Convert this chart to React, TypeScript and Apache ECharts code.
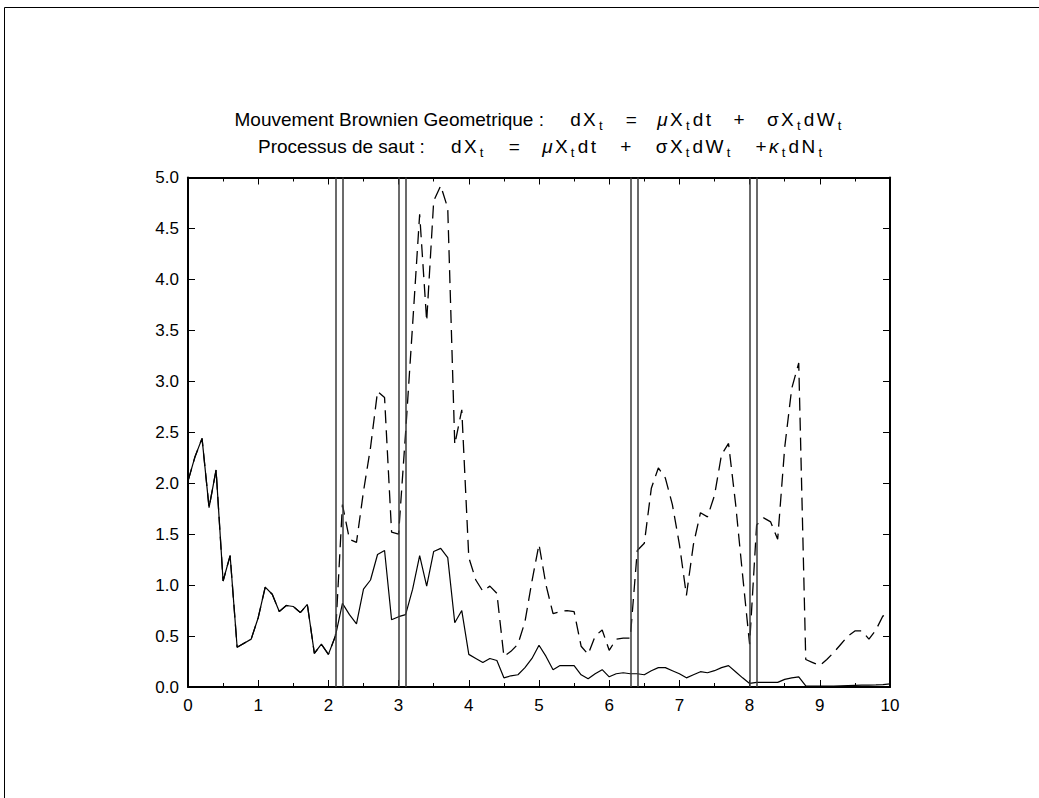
import React, { useEffect, useRef } from "react";
import * as echarts from "echarts";

const times = [
  0.0, 0.1, 0.2, 0.3, 0.4, 0.5, 0.6, 0.7, 0.8, 0.9,
  1.0, 1.1, 1.2, 1.3, 1.4, 1.5, 1.6, 1.7, 1.8, 1.9,
  2.0, 2.1, 2.2, 2.3, 2.4, 2.5, 2.6, 2.7, 2.8, 2.9,
  3.0, 3.1, 3.2, 3.3, 3.4, 3.5, 3.6, 3.7, 3.8, 3.9,
  4.0, 4.1, 4.2, 4.3, 4.4, 4.5, 4.6, 4.7, 4.8, 4.9,
  5.0, 5.1, 5.2, 5.3, 5.4, 5.5, 5.6, 5.7, 5.8, 5.9,
  6.0, 6.1, 6.2, 6.3, 6.4, 6.5, 6.6, 6.7, 6.8, 6.9,
  7.0, 7.1, 7.2, 7.3, 7.4, 7.5, 7.6, 7.7, 7.8, 7.9,
  8.0, 8.1, 8.2, 8.3, 8.4, 8.5, 8.6, 8.7, 8.8, 8.9,
  9.0, 9.1, 9.2, 9.3, 9.4, 9.5, 9.6, 9.7, 9.8, 9.9,
  10.0,
];

// Mouvement Brownien Geometrique (solid)
const gbm = [
  2.02, 2.26, 2.44, 1.76, 2.13, 1.04, 1.29, 0.39, 0.43, 0.47,
  0.68, 0.98, 0.91, 0.74, 0.8, 0.79, 0.73, 0.81, 0.33, 0.42,
  0.32, 0.5, 0.82, 0.71, 0.62, 0.96, 1.05, 1.3, 1.34, 0.66,
  0.69, 0.71, 0.96, 1.29, 0.99, 1.33, 1.36, 1.27, 0.63, 0.75,
  0.32, 0.28, 0.24, 0.28, 0.26, 0.09, 0.11, 0.12, 0.19, 0.28,
  0.41, 0.3, 0.17, 0.21, 0.21, 0.21, 0.12, 0.08, 0.13, 0.17,
  0.1, 0.13, 0.14, 0.13, 0.13, 0.12, 0.16, 0.19, 0.19, 0.16,
  0.13, 0.09, 0.12, 0.15, 0.14, 0.16, 0.19, 0.21, 0.15, 0.09,
  0.035, 0.045, 0.045, 0.045, 0.045, 0.075, 0.09, 0.1, 0.01, 0.008,
  0.008, 0.008, 0.01, 0.012, 0.014, 0.016, 0.018, 0.018, 0.02, 0.024,
  0.03,
];

// Processus de saut (dashed)
const jump = [
  2.02, 2.26, 2.44, 1.76, 2.13, 1.04, 1.29, 0.39, 0.43, 0.47,
  0.68, 0.98, 0.91, 0.74, 0.8, 0.79, 0.73, 0.81, 0.33, 0.42,
  0.32, 0.5, 1.79, 1.45, 1.42, 1.92, 2.35, 2.9, 2.84, 1.52,
  1.5, 2.5, 3.56, 4.64, 3.59, 4.77, 4.92, 4.7, 2.38, 2.72,
  1.27, 1.05, 0.94, 0.99, 0.92, 0.3, 0.35, 0.42, 0.64, 1.04,
  1.4, 1.0, 0.72, 0.74, 0.75, 0.74, 0.4, 0.32, 0.5, 0.56,
  0.36, 0.47, 0.48, 0.48, 1.34, 1.41, 1.95, 2.15, 2.05, 1.79,
  1.4, 0.9, 1.4, 1.71, 1.67, 1.88, 2.28, 2.39, 1.8, 1.1,
  0.42, 1.59, 1.66, 1.62, 1.45, 2.35, 2.93, 3.18, 0.27, 0.24,
  0.21, 0.27, 0.34, 0.42, 0.5, 0.55, 0.55, 0.47, 0.56, 0.7,
  0.66,
];

// jump instants (double vertical lines)
const jumpLines = [2.1, 2.2, 3.0, 3.1, 6.3, 6.4, 8.0, 8.1];

const yTicks = ["0.0", "0.5", "1.0", "1.5", "2.0", "2.5", "3.0", "3.5", "4.0", "4.5", "5.0"];
const xTicks = ["0", "1", "2", "3", "4", "5", "6", "7", "8", "9", "10"];

const FONT = "'Liberation Sans', Arial, sans-serif";

const T = (style: string, text: string) => `{${style}|${text}}`;
const F = (text: string) => Array.from(text).map((c) => T("f", c)).join("");

const titleLine1 =
  T("n", "Mouvement Brownien Geometrique :") + T("sp25", " ") +
  F("dX") + T("s", "t") + T("sp20", " ") + F("=") + T("sp18", " ") +
  T("g", "μ") + F("X") + T("s", "t") + F("dt") + T("sp20", " ") + F("+") + T("sp20", " ") +
  F("σX") + T("s", "t") + F("dW") + T("s", "t");

const titleLine2 =
  T("n", "Processus de saut :") + T("sp25", " ") +
  F("dX") + T("s", "t") + T("sp22", " ") + F("=") + T("sp20", " ") +
  T("g", "μ") + F("X") + T("s", "t") + F("dt") + T("sp22", " ") + F("+") + T("sp22", " ") +
  F("σX") + T("s", "t") + F("dW") + T("s", "t") + T("sp22", " ") + F("+") +
  T("g", "κ") + T("s", "t") + F("dN") + T("s", "t");

export default function App() {
  const ref = useRef<HTMLDivElement>(null);

  useEffect(() => {
    if (!ref.current) return;
    const chart = echarts.init(ref.current, undefined, { renderer: "svg" });

    const base = { fontFamily: FONT, fill: "#000", lineHeight: 24 };
    const rich = {
      n: { ...base, fontSize: 19 },
      f: { ...base, fontSize: 19, padding: [0, 1.2, 0, 1.2] },
      g: { ...base, fontSize: 19, fontStyle: "italic", padding: [0, 1.2, 0, 1.2] },
      s: { ...base, fontSize: 13, padding: [13, 2, 0, 2] },
      sp18: { ...base, fontSize: 19, width: 18 },
      sp20: { ...base, fontSize: 19, width: 20 },
      sp22: { ...base, fontSize: 19, width: 22 },
      sp25: { ...base, fontSize: 19, width: 25 },
    };

    const axisLineStyle = { color: "#000", width: 2 };
    const tickStyle = { color: "#000", width: 1 };

    chart.setOption({
      animation: false,
      backgroundColor: "#fff",
      grid: { left: 188, right: 149, top: 177.5, bottom: 111, containLabel: false },
      graphic: [
        {
          type: "rect",
          shape: { x: 4.5, y: 7.5, width: 1200, height: 1000 },
          style: { fill: "none", stroke: "#000", lineWidth: 1 },
          silent: true,
        },
        {
          type: "text",
          x: 539,
          y: 119,
          style: { text: titleLine1, rich, align: "center", verticalAlign: "middle" },
          silent: true,
        },
        {
          type: "text",
          x: 541,
          y: 146,
          style: { text: titleLine2, rich, align: "center", verticalAlign: "middle" },
          silent: true,
        },
      ],
      xAxis: [
        {
          type: "value",
          position: "bottom",
          min: 0,
          max: 10,
          interval: 1,
          axisLine: { show: true, onZero: false, lineStyle: axisLineStyle },
          axisTick: { show: true, inside: true, length: 7, lineStyle: tickStyle },
          minorTick: { show: true, splitNumber: 2, length: 4, lineStyle: tickStyle },
          splitLine: { show: false },
          axisLabel: {
            color: "#000",
            fontSize: 17,
            fontFamily: FONT,
            margin: 10,
            formatter: (v: number) => xTicks[Math.round(v)] ?? "",
          },
        },
        {
          type: "value",
          position: "top",
          min: 0,
          max: 10,
          interval: 1,
          axisLine: { show: true, onZero: false, lineStyle: axisLineStyle },
          axisTick: { show: true, inside: true, length: 7, lineStyle: tickStyle },
          minorTick: { show: true, splitNumber: 2, length: 4, lineStyle: tickStyle },
          splitLine: { show: false },
          axisLabel: { show: false },
        },
      ],
      yAxis: [
        {
          type: "value",
          position: "left",
          min: 0,
          max: 5,
          interval: 0.5,
          axisLine: { show: true, onZero: false, lineStyle: axisLineStyle },
          axisTick: { show: true, inside: true, length: 7, lineStyle: tickStyle },
          splitLine: { show: false },
          axisLabel: {
            color: "#000",
            fontSize: 17,
            fontFamily: FONT,
            margin: 9,
            formatter: (v: number) => yTicks[Math.round(v * 2)] ?? "",
          },
        },
        {
          type: "value",
          position: "right",
          min: 0,
          max: 5,
          interval: 0.5,
          axisLine: { show: true, onZero: false, lineStyle: axisLineStyle },
          axisTick: { show: true, inside: true, length: 7, lineStyle: tickStyle },
          splitLine: { show: false },
          axisLabel: { show: false },
        },
      ],
      series: [
        {
          name: "Processus de saut",
          type: "line",
          xAxisIndex: 0,
          yAxisIndex: 0,
          data: times.map((t, i) => [t, jump[i]]),
          showSymbol: false,
          symbol: "none",
          lineStyle: { color: "#000", width: 1.3, type: [13, 7] },
          silent: true,
          z: 3,
        },
        {
          name: "Mouvement Brownien Geometrique",
          type: "line",
          xAxisIndex: 0,
          yAxisIndex: 0,
          data: times.map((t, i) => [t, gbm[i]]),
          showSymbol: false,
          symbol: "none",
          lineStyle: { color: "#000", width: 1.2, type: "solid" },
          silent: true,
          z: 4,
        },
        {
          name: "sauts",
          type: "line",
          xAxisIndex: 0,
          yAxisIndex: 0,
          data: [],
          silent: true,
          markLine: {
            silent: true,
            symbol: ["none", "none"],
            label: { show: false },
            lineStyle: { color: "#3a3a3a", width: 1.5, type: "solid" },
            data: jumpLines.map((x) => ({ xAxis: x })),
          },
          z: 2,
        },
      ],
    });

    return () => chart.dispose();
  }, []);

  return (
    <div
      ref={ref}
      style={{ position: "absolute", left: 0, top: 0, width: 1039, height: 798, background: "#fff" }}
    />
  );
}
